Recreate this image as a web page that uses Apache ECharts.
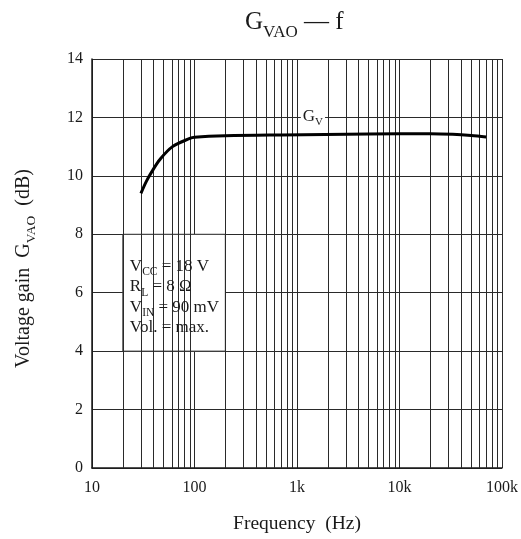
<!DOCTYPE html>
<html>
<head>
<meta charset="utf-8">
<script src="https://cdn.jsdelivr.net/npm/echarts@6/dist/echarts.min.js"></script>
<style>
html,body{margin:0;padding:0;background:#fff;}
#c{width:521px;height:539px;}
</style>
</head>
<body>
<div id="c"></div>
<script>
// Data
var freq = [30, 34, 38, 46, 61, 90, 100, 200, 700, 5000, 20000, 33000, 50000, 70000];
var gain = [9.4, 9.82, 10.12, 10.56, 11.0, 11.28, 11.32, 11.37, 11.4, 11.43, 11.44, 11.42, 11.38, 11.33];
var xTickValues = [10, 100, 1000, 10000, 100000];
var xTickLabels = ['10', '100', '1k', '10k', '100k'];
var minorFreqs = [20,30,40,50,60,70,80,90, 200,300,400,500,600,700,800,900,
                  2000,3000,4000,5000,6000,7000,8000,9000, 20000,30000,40000,50000,60000,70000,80000,90000];
var boxFreqRange = [20, 200];
var boxGainRange = [4, 8];
var gvLabelPos = [1430, 12];
var noteLines = [['V', 'CC', ' = 18 V'], ['R', 'L', ' = 8 Ω'], ['V', 'IN', ' = 90 mV'], ['Vol. = max.', '', '']];

var FONT = '"Liberation Serif", "Times New Roman", serif';
var INK = '#1a1a1a';
var GRID = '#2a2a2a';
function richSet(main, sub, lh) {
  return {
    m: {fontFamily: FONT, fontSize: main, fontWeight: 'normal', lineHeight: lh, color: INK, verticalAlign: 'top'},
    s: {fontFamily: FONT, fontSize: sub, fontWeight: 'normal', lineHeight: sub, color: INK, verticalAlign: 'bottom'}
  };
}
var noteText = noteLines.map(function (l) {
  var t = '{m|' + l[0] + '}';
  if (l[1]) t += '{s|' + l[1] + '}';
  if (l[2]) t += '{m|' + l[2] + '}';
  return t;
}).join('\n');

var chart = echarts.init(document.getElementById('c'), null, {renderer: 'canvas'});
chart.setOption({
  animation: false,
  backgroundColor: '#fff',
  title: {
    text: '{m|G}{s|VAO}{m| — f}',
    left: 240, top: 5,
    textStyle: {fontWeight: 'normal', rich: richSet(25, 17, 31)}
  },
  grid: {left: 92, top: 59, width: 411, height: 411, containLabel: false},
  xAxis: {
    type: 'log', logBase: 10, min: 10, max: 100000,
    name: 'Frequency  (Hz)', nameLocation: 'middle', nameGap: 46,
    nameTextStyle: {fontFamily: FONT, fontSize: 19.5, color: INK},
    axisLine: {show: true, lineStyle: {color: INK, width: 1.5}},
    axisTick: {show: false},
    axisLabel: {
      fontFamily: FONT, fontSize: 16, color: INK, margin: 12,
      formatter: function (v) {
        var i = xTickValues.indexOf(Math.round(v));
        return i >= 0 ? xTickLabels[i] : '';
      }
    },
    splitLine: {show: true, lineStyle: {color: GRID, width: 1}}
  },
  yAxis: {
    type: 'value', min: 0, max: 14, interval: 2,
    name: '{m|Voltage gain  G}{s|VAO}{m|  (dB)}', nameLocation: 'middle', nameGap: 54,
    nameTextStyle: {padding: [0, 10, 0, 0], rich: richSet(20, 13.5, 24)},
    axisLine: {show: true, lineStyle: {color: INK, width: 1.5}},
    axisTick: {show: false},
    axisLabel: {fontFamily: FONT, fontSize: 16, color: INK, margin: 9},
    splitLine: {show: true, lineStyle: {color: GRID, width: 1}}
  },
  series: [
    {
      name: 'minorGrid', type: 'line', data: [], z: 1, silent: true,
      markLine: {
        silent: true, symbol: 'none', label: {show: false},
        lineStyle: {color: GRID, width: 1, type: 'solid'},
        data: minorFreqs.map(function (v) { return {xAxis: v}; })
      }
    },
    {
      name: 'noteBox', type: 'line', data: [], z: 3, silent: true,
      markArea: {
        silent: true,
        itemStyle: {color: '#fff', opacity: 1, borderColor: GRID, borderWidth: 1},
        label: {show: false},
        data: [[{xAxis: boxFreqRange[0], yAxis: boxGainRange[1]}, {xAxis: boxFreqRange[1], yAxis: boxGainRange[0]}]]
      }
    },
    {
      name: 'Gv', type: 'line', data: freq.map(function (f, i) { return [f, gain[i]]; }),
      z: 5, smooth: 0.35, showSymbol: false, symbol: 'none',
      lineStyle: {color: '#000', width: 3},
      markPoint: {
        silent: true, symbol: 'rect', symbolSize: 0,
        label: {show: true, position: 'inside', backgroundColor: '#fff', padding: [1, 2, 0, 2],
          formatter: '{m|G}{s|V}', rich: richSet(17, 11, 20)},
        data: [{coord: gvLabelPos}]
      }
    }
  ]
});

// Note text placed inside the box, anchored via the axis scales
var tl = chart.convertToPixel({gridIndex: 0}, [boxFreqRange[0], boxGainRange[1]]);
var br = chart.convertToPixel({gridIndex: 0}, [boxFreqRange[1], boxGainRange[0]]);
chart.setOption({
  graphic: [{
    type: 'text', silent: true, z: 10,
    x: tl[0] + 7, y: (tl[1] + br[1]) / 2 + 6,
    style: {text: noteText, rich: richSet(17, 11.5, 20.3), align: 'left', verticalAlign: 'middle', fill: INK}
  }]
});
</script>
</body>
</html>
